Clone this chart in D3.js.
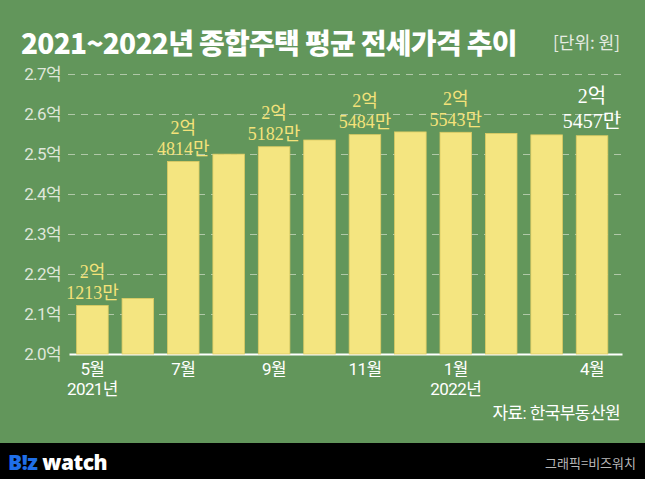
<!DOCTYPE html>
<html>
<head>
<meta charset="utf-8">
<script src="https://cdn.jsdelivr.net/npm/d3@7"></script>
<style>
  html, body { margin: 0; padding: 0; background: #62965b; }
  svg { display: block; }
</style>
</head>
<body>
<svg id="chart"></svg>
<script>
// 월별 종합주택 평균 전세가격 (억 원)
const months = ["2021-05", "2021-06", "2021-07", "2021-08", "2021-09", "2021-10",
  "2021-11", "2021-12", "2022-01", "2022-02", "2022-03", "2022-04"];
const values = [2.1213, 2.1390, 2.4814, 2.4996, 2.5182, 2.5350,
  2.5484, 2.5552, 2.5543, 2.5515, 2.5478, 2.5457];
const monthLabels = ["5월", "", "7월", "", "9월", "", "11월", "", "1월", "", "", "4월"];
const yearLabels = ["2021년", "", "", "", "", "", "", "", "2022년", "", "", ""];
const labelled = [0, 2, 4, 6, 8, 11];
const yTicks = [2.0, 2.1, 2.2, 2.3, 2.4, 2.5, 2.6, 2.7];

class BarChart {
  constructor(option) {
    this.el = option.el;
    this.width = 645;
    this.height = 479;
    this.plot = { left: 69, right: 622, top: 74, bottom: 354 };
    this.barColor = "#f4e580";
    this.init();
  }

  init() {
    this.svg = d3.select(this.el)
      .attr("width", this.width)
      .attr("height", this.height);
    this.svg.html("");
    this.svg.append("rect")
      .attr("width", this.width).attr("height", this.height)
      .attr("fill", "#62965b");
    this.addHeader();
    this.addYAxis();
    this.addXAxis();
    this.addBars();
    this.addLabels();
    this.addFooter();
  }

  addHeader() {
    this.svg.append("text")
      .attr("x", 21).attr("y", 54)
      .attr("font-family", "'Noto Sans CJK KR', sans-serif")
      .attr("font-weight", 900)
      .attr("font-size", 28)
      .attr("letter-spacing", -0.7)
      .attr("fill", "#ffffff")
      .text("2021~2022년 종합주택 평균 전세가격 추이");
    this.svg.append("text")
      .attr("x", 620).attr("y", 49)
      .attr("text-anchor", "end")
      .attr("font-family", "'Noto Sans CJK KR', sans-serif")
      .attr("font-size", 17)
      .attr("fill", "#e6ece2")
      .text("[단위: 원]");
  }

  addYAxis() {
    this.yScale = d3.scaleLinear()
      .domain([2.0, 2.7])
      .range([this.plot.bottom, this.plot.top]);

    const axis = this.svg.append("g")
      .attr("class", "yAxis")
      .attr("transform", `translate(68,0)`)
      .call(d3.axisLeft(this.yScale)
        .tickValues(yTicks)
        .tickSize(-(this.plot.right - 68))
        .tickPadding(7)
        .tickFormat(d => d.toFixed(1) + "억"));
    axis.select(".domain").remove();
    axis.selectAll(".tick line")
      .attr("stroke", "#b9cdb0")
      .attr("stroke-width", 1)
      .attr("stroke-dasharray", "7,6")
      .attr("opacity", d => d === 2.0 ? 0 : 0.9);
    axis.selectAll(".tick text")
      .attr("fill", "#dfe6da")
      .attr("font-family", "Roboto, 'Noto Sans CJK KR', sans-serif")
      .attr("font-size", 17)
      .attr("letter-spacing", -0.6);
  }

  addXAxis() {
    this.xScale = d3.scaleBand()
      .domain(months)
      .range([this.plot.left, this.plot.right])
      .paddingInner(0.305)
      .paddingOuter(0.24)
      .align(0.35);

    const axis = this.svg.append("g")
      .attr("class", "xAxis")
      .attr("transform", `translate(0,${this.plot.bottom})`)
      .call(d3.axisBottom(this.xScale)
        .tickSize(0)
        .tickSizeOuter(0)
        .tickPadding(9)
        .tickFormat((d, i) => monthLabels[i]));
    axis.select(".domain")
      .attr("stroke", "#ffffff")
      .attr("stroke-width", 2);
    axis.selectAll(".tick text")
      .attr("fill", "#ffffff")
      .attr("font-family", "Roboto, 'Noto Sans CJK KR', sans-serif")
      .attr("font-size", 17)
      .attr("letter-spacing", -0.6);

    this.svg.append("g")
      .selectAll("text")
      .data(months)
      .enter()
      .append("text")
      .attr("x", d => this.xScale(d) + this.xScale.bandwidth() / 2)
      .attr("y", 395)
      .attr("text-anchor", "middle")
      .attr("fill", "#ffffff")
      .attr("font-family", "Roboto, 'Noto Sans CJK KR', sans-serif")
      .attr("font-size", 17)
      .attr("letter-spacing", -0.6)
      .text((d, i) => yearLabels[i]);
  }

  addBars() {
    this.svg.append("g")
      .selectAll(".bar")
      .data(values)
      .enter()
      .append("rect")
      .attr("class", "bar")
      .attr("x", (d, i) => this.xScale(months[i]))
      .attr("y", d => this.yScale(d))
      .attr("width", this.xScale.bandwidth())
      .attr("height", d => this.plot.bottom - this.yScale(d))
      .attr("fill", this.barColor)
      .attr("stroke", "#dccb63")
      .attr("stroke-width", 0.8);
  }

  addLabels() {
    const last = values.length - 1;
    const g = this.svg.append("g").attr("class", "labels");
    labelled.forEach(i => {
      const v = values[i];
      const x = this.xScale(months[i]) + this.xScale.bandwidth() / 2;
      const y = this.yScale(v);
      const isLast = i === last;
      const size = isLast ? 20 : 18;
      const gap = isLast ? 8 : 6.5;
      const lh = isLast ? 25 : 21;
      const t = g.append("text")
        .attr("text-anchor", "middle")
        .attr("font-family", "'Liberation Serif', 'Noto Sans CJK KR', serif")
        .attr("font-size", size)
        .attr("fill", isLast ? "#ffffff" : "#f4e27a");
      t.append("tspan")
        .attr("x", x).attr("y", y - gap - lh)
        .text(Math.floor(v) + "억");
      t.append("tspan")
        .attr("x", x).attr("y", y - gap)
        .text(Math.round((v - Math.floor(v)) * 10000) + "만");
    });
  }

  addFooter() {
    this.svg.append("text")
      .attr("x", 620).attr("y", 419)
      .attr("text-anchor", "end")
      .attr("font-family", "Roboto, 'Noto Sans CJK KR', sans-serif")
      .attr("font-size", 17)
      .attr("letter-spacing", -0.6)
      .attr("fill", "#ffffff")
      .text("자료: 한국부동산원");

    this.svg.append("rect")
      .attr("x", 0).attr("y", 443)
      .attr("width", this.width).attr("height", this.height - 443)
      .attr("fill", "#000000");

    const logo = this.svg.append("text")
      .attr("x", 8).attr("y", 470)
      .attr("font-family", "'Open Sans', 'DejaVu Sans', sans-serif")
      .attr("font-weight", 800)
      .attr("font-size", 21)
      .attr("letter-spacing", -0.5);
    logo.append("tspan").attr("fill", "#1f6fe8").text("B!z");
    logo.append("tspan").attr("fill", "#ffffff").text(" watch");

    this.svg.append("text")
      .attr("x", 636).attr("y", 468)
      .attr("text-anchor", "end")
      .attr("font-family", "'Noto Sans CJK KR', sans-serif")
      .attr("font-size", 13)
      .attr("fill", "#b8b8b8")
      .text("그래픽=비즈워치");
  }
}

new BarChart({ el: "#chart" });
</script>
</body>
</html>
